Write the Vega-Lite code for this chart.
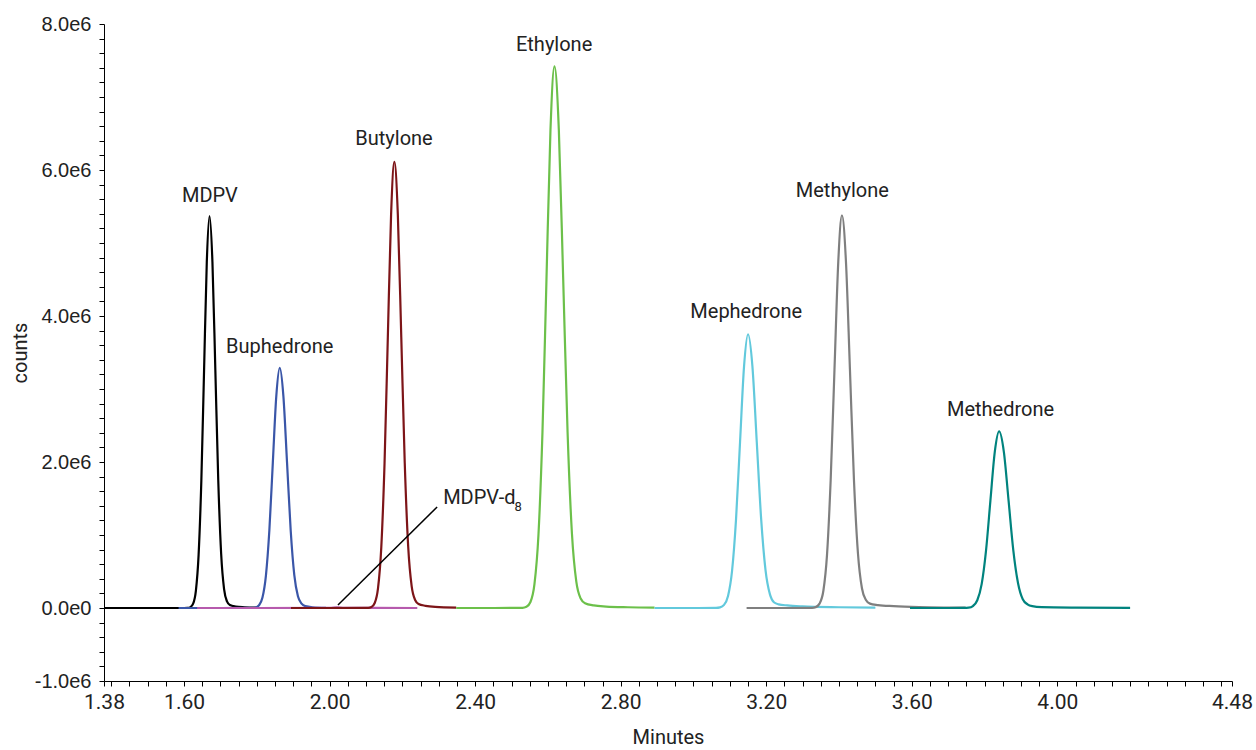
{
  "$schema": "https://vega.github.io/schema/vega-lite/v6.json",
  "width": 1128,
  "height": 657,
  "autosize": {"type": "none"},
  "padding": {"left": 104, "top": 24, "right": 24, "bottom": 69},
  "background": "white",
  "config": {"view": {"stroke": null}},
  "datasets": {
    "series": [
      {"c": "MDPV", "t": 1.38, "v": 0}, {"c": "MDPV", "t": 1.5, "v": 0}, {"c": "MDPV", "t": 1.6, "v": 0},
      {"c": "MDPV", "t": 1.61, "v": 2000}, {"c": "MDPV", "t": 1.6175, "v": 12000}, {"c": "MDPV", "t": 1.625, "v": 60000},
      {"c": "MDPV", "t": 1.6325, "v": 236000}, {"c": "MDPV", "t": 1.64, "v": 727000}, {"c": "MDPV", "t": 1.6475, "v": 1744000},
      {"c": "MDPV", "t": 1.655, "v": 3257000}, {"c": "MDPV", "t": 1.6625, "v": 4739000}, {"c": "MDPV", "t": 1.67, "v": 5370000},
      {"c": "MDPV", "t": 1.678, "v": 4740000}, {"c": "MDPV", "t": 1.686, "v": 3260000}, {"c": "MDPV", "t": 1.694, "v": 1750000},
      {"c": "MDPV", "t": 1.702, "v": 740000}, {"c": "MDPV", "t": 1.71, "v": 260000}, {"c": "MDPV", "t": 1.718, "v": 90000},
      {"c": "MDPV", "t": 1.726, "v": 40000}, {"c": "MDPV", "t": 1.742, "v": 20000}, {"c": "MDPV", "t": 1.766, "v": 10000},
      {"c": "MDPV", "t": 1.8, "v": 4000},

      {"c": "Buphedrone", "t": 1.585, "v": 0}, {"c": "Buphedrone", "t": 1.7, "v": 0}, {"c": "Buphedrone", "t": 1.787, "v": 3000},
      {"c": "Buphedrone", "t": 1.7965, "v": 7000}, {"c": "Buphedrone", "t": 1.806, "v": 37000}, {"c": "Buphedrone", "t": 1.8155, "v": 144000},
      {"c": "Buphedrone", "t": 1.825, "v": 445000}, {"c": "Buphedrone", "t": 1.8345, "v": 1068000}, {"c": "Buphedrone", "t": 1.844, "v": 1995000},
      {"c": "Buphedrone", "t": 1.8535, "v": 2903000}, {"c": "Buphedrone", "t": 1.863, "v": 3290000}, {"c": "Buphedrone", "t": 1.873, "v": 2903000},
      {"c": "Buphedrone", "t": 1.883, "v": 1995000}, {"c": "Buphedrone", "t": 1.893, "v": 1068000}, {"c": "Buphedrone", "t": 1.903, "v": 450000},
      {"c": "Buphedrone", "t": 1.913, "v": 160000}, {"c": "Buphedrone", "t": 1.923, "v": 60000}, {"c": "Buphedrone", "t": 1.933, "v": 25000},
      {"c": "Buphedrone", "t": 1.953, "v": 10000}, {"c": "Buphedrone", "t": 1.99, "v": 3000},

      {"c": "MDPV-d8", "t": 1.636, "v": 0}, {"c": "MDPV-d8", "t": 1.8, "v": 0}, {"c": "MDPV-d8", "t": 2.0, "v": 3000},
      {"c": "MDPV-d8", "t": 2.02, "v": 8000}, {"c": "MDPV-d8", "t": 2.04, "v": 3000}, {"c": "MDPV-d8", "t": 2.241, "v": 0},

      {"c": "Butylone", "t": 1.894, "v": 0}, {"c": "Butylone", "t": 2.0, "v": 0}, {"c": "Butylone", "t": 2.106, "v": 2000},
      {"c": "Butylone", "t": 2.115, "v": 13000}, {"c": "Butylone", "t": 2.124, "v": 68000}, {"c": "Butylone", "t": 2.133, "v": 268000},
      {"c": "Butylone", "t": 2.142, "v": 827000}, {"c": "Butylone", "t": 2.151, "v": 1984000}, {"c": "Butylone", "t": 2.16, "v": 3706000},
      {"c": "Butylone", "t": 2.169, "v": 5392000}, {"c": "Butylone", "t": 2.178, "v": 6110000}, {"c": "Butylone", "t": 2.1875, "v": 5392000},
      {"c": "Butylone", "t": 2.197, "v": 3710000}, {"c": "Butylone", "t": 2.2065, "v": 1990000}, {"c": "Butylone", "t": 2.216, "v": 840000},
      {"c": "Butylone", "t": 2.2255, "v": 300000}, {"c": "Butylone", "t": 2.235, "v": 110000}, {"c": "Butylone", "t": 2.2445, "v": 55000},
      {"c": "Butylone", "t": 2.2635, "v": 30000}, {"c": "Butylone", "t": 2.29, "v": 15000}, {"c": "Butylone", "t": 2.348, "v": 5000},

      {"c": "Ethylone", "t": 2.348, "v": 0}, {"c": "Ethylone", "t": 2.45, "v": 0}, {"c": "Ethylone", "t": 2.53, "v": 2000},
      {"c": "Ethylone", "t": 2.541, "v": 16000}, {"c": "Ethylone", "t": 2.552, "v": 82000}, {"c": "Ethylone", "t": 2.563, "v": 326000},
      {"c": "Ethylone", "t": 2.574, "v": 1004000}, {"c": "Ethylone", "t": 2.585, "v": 2409000}, {"c": "Ethylone", "t": 2.596, "v": 4500000},
      {"c": "Ethylone", "t": 2.607, "v": 6548000}, {"c": "Ethylone", "t": 2.618, "v": 7420000}, {"c": "Ethylone", "t": 2.63, "v": 6550000},
      {"c": "Ethylone", "t": 2.642, "v": 4500000}, {"c": "Ethylone", "t": 2.654, "v": 2410000}, {"c": "Ethylone", "t": 2.666, "v": 1020000},
      {"c": "Ethylone", "t": 2.678, "v": 360000}, {"c": "Ethylone", "t": 2.69, "v": 130000}, {"c": "Ethylone", "t": 2.702, "v": 65000},
      {"c": "Ethylone", "t": 2.726, "v": 35000}, {"c": "Ethylone", "t": 2.76, "v": 20000}, {"c": "Ethylone", "t": 2.82, "v": 10000},
      {"c": "Ethylone", "t": 2.893, "v": 5000},

      {"c": "Mephedrone", "t": 2.893, "v": 0}, {"c": "Mephedrone", "t": 3.0, "v": 0}, {"c": "Mephedrone", "t": 3.062, "v": 1000},
      {"c": "Mephedrone", "t": 3.073, "v": 8000}, {"c": "Mephedrone", "t": 3.084, "v": 42000}, {"c": "Mephedrone", "t": 3.095, "v": 165000},
      {"c": "Mephedrone", "t": 3.106, "v": 507000}, {"c": "Mephedrone", "t": 3.117, "v": 1218000}, {"c": "Mephedrone", "t": 3.128, "v": 2274000},
      {"c": "Mephedrone", "t": 3.139, "v": 3309000}, {"c": "Mephedrone", "t": 3.15, "v": 3750000}, {"c": "Mephedrone", "t": 3.162, "v": 3310000},
      {"c": "Mephedrone", "t": 3.174, "v": 2270000}, {"c": "Mephedrone", "t": 3.186, "v": 1220000}, {"c": "Mephedrone", "t": 3.198, "v": 520000},
      {"c": "Mephedrone", "t": 3.21, "v": 190000}, {"c": "Mephedrone", "t": 3.222, "v": 75000}, {"c": "Mephedrone", "t": 3.234, "v": 50000},
      {"c": "Mephedrone", "t": 3.258, "v": 35000}, {"c": "Mephedrone", "t": 3.3, "v": 22000}, {"c": "Mephedrone", "t": 3.4, "v": 10000},
      {"c": "Mephedrone", "t": 3.5, "v": 4000},

      {"c": "Methylone", "t": 3.146, "v": 0}, {"c": "Methylone", "t": 3.25, "v": 0}, {"c": "Methylone", "t": 3.326, "v": 2000},
      {"c": "Methylone", "t": 3.336, "v": 12000}, {"c": "Methylone", "t": 3.3465, "v": 60000}, {"c": "Methylone", "t": 3.357, "v": 236000},
      {"c": "Methylone", "t": 3.367, "v": 728000}, {"c": "Methylone", "t": 3.377, "v": 1747000}, {"c": "Methylone", "t": 3.3875, "v": 3263000},
      {"c": "Methylone", "t": 3.398, "v": 4748000}, {"c": "Methylone", "t": 3.408, "v": 5380000}, {"c": "Methylone", "t": 3.419, "v": 4750000},
      {"c": "Methylone", "t": 3.43, "v": 3270000}, {"c": "Methylone", "t": 3.441, "v": 1760000}, {"c": "Methylone", "t": 3.452, "v": 750000},
      {"c": "Methylone", "t": 3.463, "v": 270000}, {"c": "Methylone", "t": 3.474, "v": 110000}, {"c": "Methylone", "t": 3.485, "v": 60000},
      {"c": "Methylone", "t": 3.507, "v": 40000}, {"c": "Methylone", "t": 3.55, "v": 25000}, {"c": "Methylone", "t": 3.62, "v": 12000},
      {"c": "Methylone", "t": 3.7, "v": 6000}, {"c": "Methylone", "t": 3.748, "v": 4000},

      {"c": "Methedrone", "t": 3.595, "v": 0}, {"c": "Methedrone", "t": 3.7, "v": 0}, {"c": "Methedrone", "t": 3.744, "v": 1000},
      {"c": "Methedrone", "t": 3.756, "v": 5000}, {"c": "Methedrone", "t": 3.768, "v": 27000}, {"c": "Methedrone", "t": 3.78, "v": 106000},
      {"c": "Methedrone", "t": 3.792, "v": 327000}, {"c": "Methedrone", "t": 3.804, "v": 786000}, {"c": "Methedrone", "t": 3.816, "v": 1468000},
      {"c": "Methedrone", "t": 3.828, "v": 2136000}, {"c": "Methedrone", "t": 3.84, "v": 2420000}, {"c": "Methedrone", "t": 3.853, "v": 2140000},
      {"c": "Methedrone", "t": 3.866, "v": 1470000}, {"c": "Methedrone", "t": 3.879, "v": 790000}, {"c": "Methedrone", "t": 3.892, "v": 340000},
      {"c": "Methedrone", "t": 3.905, "v": 120000}, {"c": "Methedrone", "t": 3.918, "v": 50000}, {"c": "Methedrone", "t": 3.931, "v": 25000},
      {"c": "Methedrone", "t": 3.957, "v": 12000}, {"c": "Methedrone", "t": 4.05, "v": 6000}, {"c": "Methedrone", "t": 4.2, "v": 3000}
    ],
    "labels": [
      {"label": "MDPV", "t": 1.671, "v": 5640000},
      {"label": "Buphedrone", "t": 1.863, "v": 3575000},
      {"label": "Butylone", "t": 2.177, "v": 6425000},
      {"label": "Ethylone", "t": 2.617, "v": 7712000},
      {"label": "Mephedrone", "t": 3.145, "v": 4055000},
      {"label": "Methylone", "t": 3.409, "v": 5712000},
      {"label": "Methedrone", "t": 3.844, "v": 2712000}
    ],
    "annot": [
      {"t": 2.023, "v": 41000, "t2": 2.2955, "v2": 1384000}
    ],
    "d8main": [
      {"label": "MDPV-d", "t": 2.312, "v": 1507000}
    ],
    "d8sub": [
      {"label": "8", "t": 2.508, "v": 1390000}
    ]
  },
  "encoding": {
    "x": {
      "field": "t", "type": "quantitative",
      "scale": {"domain": [1.38, 4.48], "nice": false, "zero": false},
      "axis": {
        "title": "Minutes",
        "grid": false,
        "values": [1.38, 1.4, 1.45, 1.5, 1.55, 1.6, 1.65, 1.7, 1.75, 1.8, 1.85, 1.9, 1.95, 2.0, 2.05, 2.1, 2.15, 2.2, 2.25, 2.3, 2.35, 2.4, 2.45, 2.5, 2.55, 2.6, 2.65, 2.7, 2.75, 2.8, 2.85, 2.9, 2.95, 3.0, 3.05, 3.1, 3.15, 3.2, 3.25, 3.3, 3.35, 3.4, 3.45, 3.5, 3.55, 3.6, 3.65, 3.7, 3.75, 3.8, 3.85, 3.9, 3.95, 4.0, 4.05, 4.1, 4.15, 4.2, 4.25, 4.3, 4.35, 4.4, 4.45, 4.48],
        "labelExpr": "indexof([1.38,1.6,2,2.4,2.8,3.2,3.6,4,4.48], datum.value) >= 0 ? format(datum.value, '.2f') : ''",
        "labelOverlap": false, "labelFlush": false, "labelBound": false,
        "domainColor": "#000", "domainWidth": 1,
        "tickColor": "#000", "tickSize": 5, "tickWidth": 1,
        "labelFont": "Roboto", "labelFontSize": 21, "labelColor": "#222", "labelPadding": 5,
        "titleFont": "Roboto", "titleFontSize": 20, "titleFontWeight": "normal", "titleColor": "#222", "titlePadding": 15
      }
    },
    "y": {
      "field": "v", "type": "quantitative",
      "scale": {"domain": [-1000000, 8000000], "nice": false, "zero": false},
      "axis": {
        "title": "counts",
        "grid": false,
        "values": [-1000000, -800000, -600000, -400000, -200000, 0, 200000, 400000, 600000, 800000, 1000000, 1200000, 1400000, 1600000, 1800000, 2000000, 2200000, 2400000, 2600000, 2800000, 3000000, 3200000, 3400000, 3600000, 3800000, 4000000, 4200000, 4400000, 4600000, 4800000, 5000000, 5200000, 5400000, 5600000, 5800000, 6000000, 6200000, 6400000, 6600000, 6800000, 7000000, 7200000, 7400000, 7600000, 7800000, 8000000],
        "labelExpr": "datum.value == 8000000 ? '8.0e6' : datum.value == 6000000 ? '6.0e6' : datum.value == 4000000 ? '4.0e6' : datum.value == 2000000 ? '2.0e6' : datum.value == 0 ? '0.0e0' : datum.value == -1000000 ? '-1.0e6' : ''",
        "labelOverlap": false, "labelFlush": false, "labelBound": false,
        "domainColor": "#000", "domainWidth": 1,
        "tickColor": "#000", "tickSize": 5, "tickWidth": 1,
        "labelFont": "Liberation Sans", "labelFontSize": 20, "labelColor": "#222", "labelPadding": 8,
        "titleFont": "Roboto", "titleFontSize": 20, "titleFontWeight": "normal", "titleColor": "#222", "titlePadding": 4
      }
    }
  },
  "layer": [
    {
      "data": {"name": "series"},
      "mark": {"type": "line", "interpolate": "monotone", "strokeWidth": 2.2},
      "encoding": {
        "color": {
          "field": "c", "type": "nominal", "legend": null,
          "scale": {
            "domain": ["MDPV", "Buphedrone", "MDPV-d8", "Butylone", "Ethylone", "Mephedrone", "Methylone", "Methedrone"],
            "range": ["#000000", "#3a56a8", "#b65aad", "#7d1518", "#6cc04a", "#62c9dc", "#7f7f7f", "#00837e"]
          }
        }
      }
    },
    {
      "data": {"name": "annot"},
      "mark": {"type": "rule", "color": "#000", "strokeWidth": 1.5},
      "encoding": {
        "x2": {"field": "t2"},
        "y2": {"field": "v2"}
      }
    },
    {
      "data": {"name": "labels"},
      "mark": {"type": "text", "align": "center", "baseline": "middle", "font": "Roboto", "fontSize": 20, "color": "#222"},
      "encoding": {"text": {"field": "label"}}
    },
    {
      "data": {"name": "d8main"},
      "mark": {"type": "text", "align": "left", "baseline": "middle", "font": "Roboto", "fontSize": 20, "color": "#222"},
      "encoding": {"text": {"field": "label"}}
    },
    {
      "data": {"name": "d8sub"},
      "mark": {"type": "text", "align": "left", "baseline": "middle", "font": "Roboto", "fontSize": 13, "color": "#222"},
      "encoding": {"text": {"field": "label"}}
    }
  ]
}
